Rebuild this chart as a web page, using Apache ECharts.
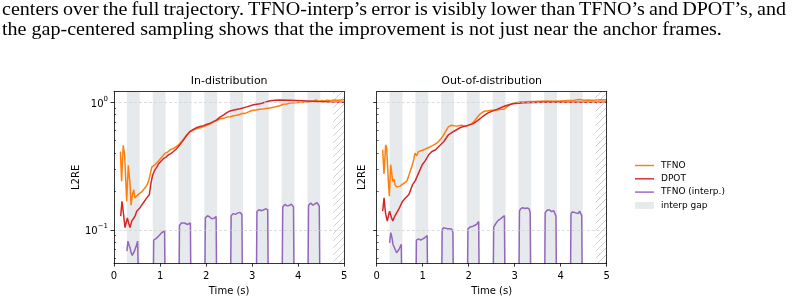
<!DOCTYPE html>
<html>
<head>
<meta charset="utf-8">
<script src="https://cdn.jsdelivr.net/npm/echarts@6/dist/echarts.min.js"></script>
<style>
  html, body { margin: 0; padding: 0; background: #fff; }
  #wrap { position: relative; width: 804px; height: 301px; overflow: hidden; }
  #chart { position: absolute; left: 0; top: 0; width: 804px; height: 301px; }
  .txt { position: absolute; left: 2px; font-family: 'Liberation Serif', serif; font-size: 19px; line-height: 19px; color: #000; white-space: nowrap; transform: scaleX(1.056); transform-origin: 0 0; }
  #line1 { top: -0.9px; word-spacing: -0.8px; }
  #line2 { top: 18.6px; }
</style>
</head>
<body>
<div id="wrap">
  <div id="chart"></div>
  <div class="txt" id="line1">centers over the full trajectory. TFNO-interp’s error is visibly lower than TFNO’s and DPOT’s, and</div>
  <div class="txt" id="line2">the gap-centered sampling shows that the improvement is not just near the anchor frames.</div>
</div>
<script>
  // axes
  const xTicks = [0, 1, 2, 3, 4, 5]
  const yMajor = [0.1, 1]
  const yMinor = [0.06, 0.07, 0.08, 0.09, 0.2, 0.3, 0.4, 0.5, 0.6, 0.7, 0.8, 0.9]
  const panelTitles = ['In-distribution', 'Out-of-distribution']

  // interp gaps (s), hatched tail
  const gapStart = [0.28, 0.84, 1.40, 1.96, 2.52, 3.08, 3.64, 4.20]
  const gapEnd = [0.56, 1.12, 1.68, 2.24, 2.80, 3.36, 3.92, 4.48]
  const hatchFrom = 4.76

  // In-distribution
  const idTfnoT = [0.14, 0.165, 0.20, 0.23, 0.26, 0.275, 0.31, 0.35, 0.37, 0.40, 0.43, 0.45, 0.48, 0.53, 0.56, 0.60, 0.64, 0.67, 0.71, 0.75, 0.80, 0.82, 0.86, 0.89, 0.93, 0.96, 1.00, 1.04, 1.08, 1.11, 1.16, 1.22, 1.28, 1.36, 1.42, 1.47, 1.52, 1.58, 1.65, 1.69, 1.75, 1.80, 1.87, 1.94, 2.00, 2.05, 2.10, 2.15, 2.23, 2.30, 2.38, 2.45, 2.52, 2.60, 2.67, 2.74, 2.80, 2.85, 2.92, 2.99, 3.08, 3.17, 3.24, 3.30, 3.38, 3.46, 3.53, 3.60, 3.68, 3.75, 3.83, 3.92, 4.00, 4.10, 4.19, 4.26, 4.33, 4.40, 4.45, 4.50, 4.56, 4.62, 4.70, 4.78, 4.86, 4.93, 5.00]
  const idTfno = [0.41, 0.24, 0.46, 0.39, 0.226, 0.167, 0.32, 0.226, 0.156, 0.189, 0.206, 0.178, 0.178, 0.19, 0.188, 0.198, 0.205, 0.213, 0.222, 0.24, 0.287, 0.31, 0.318, 0.324, 0.33, 0.344, 0.352, 0.372, 0.38, 0.399, 0.405, 0.424, 0.432, 0.45, 0.47, 0.492, 0.52, 0.556, 0.59, 0.605, 0.61, 0.622, 0.63, 0.644, 0.655, 0.668, 0.68, 0.70, 0.718, 0.742, 0.748, 0.765, 0.77, 0.785, 0.79, 0.805, 0.82, 0.818, 0.84, 0.862, 0.868, 0.88, 0.885, 0.895, 0.90, 0.912, 0.925, 0.94, 0.965, 0.968, 0.988, 0.99, 0.997, 1.0, 1.005, 1.015, 1.022, 1.04, 1.02, 1.03, 1.025, 1.035, 1.03, 1.04, 1.035, 1.04, 1.045]
  const idDpotT = [0.145, 0.174, 0.203, 0.239, 0.26, 0.29, 0.32, 0.348, 0.384, 0.42, 0.457, 0.493, 0.53, 0.565, 0.60, 0.638, 0.67, 0.71, 0.768, 0.797, 0.833, 0.86, 0.891, 0.93, 0.964, 1.02, 1.072, 1.13, 1.181, 1.24, 1.29, 1.35, 1.40, 1.46, 1.51, 1.58, 1.65, 1.72, 1.80, 1.87, 1.94, 2.02, 2.09, 2.16, 2.23, 2.30, 2.38, 2.45, 2.52, 2.63, 2.74, 2.88, 3.03, 3.17, 3.28, 3.39, 3.50, 3.59, 3.80, 4.10, 4.40, 4.70, 5.00]
  const idDpot = [0.128, 0.167, 0.136, 0.104, 0.112, 0.124, 0.112, 0.104, 0.117, 0.122, 0.128, 0.140, 0.144, 0.149, 0.156, 0.163, 0.168, 0.178, 0.189, 0.226, 0.263, 0.28, 0.296, 0.31, 0.328, 0.345, 0.361, 0.372, 0.387, 0.398, 0.411, 0.43, 0.45, 0.48, 0.507, 0.55, 0.589, 0.612, 0.634, 0.645, 0.656, 0.672, 0.686, 0.705, 0.728, 0.765, 0.796, 0.83, 0.855, 0.872, 0.888, 0.92, 0.955, 0.975, 1.0, 1.028, 1.038, 1.04, 1.035, 1.028, 1.015, 1.005, 1.0]
  // TFNO (interp.) inside each gap; 0.01 = drop below the axis
  const idInterp = [
    [0.068, 0.0815, 0.076, 0.072, 0.066, 0.063, 0.064, 0.068, 0.072, 0.076, 0.0815, 0.084, 0.01],
    [0.01, 0.083, 0.084, 0.0855, 0.086, 0.087, 0.089, 0.091, 0.093, 0.0948, 0.096, 0.0975, 0.098, 0.01],
    [0.01, 0.108, 0.111, 0.113, 0.115, 0.114, 0.113, 0.111, 0.110, 0.110, 0.111, 0.112, 0.113, 0.01],
    [0.01, 0.124, 0.127, 0.129, 0.128, 0.126, 0.125, 0.122, 0.121, 0.123, 0.126, 0.127, 0.01],
    [0.01, 0.129, 0.133, 0.134, 0.133, 0.132, 0.133, 0.135, 0.139, 0.137, 0.133, 0.132, 0.01],
    [0.01, 0.139, 0.143, 0.144, 0.141, 0.141, 0.142, 0.143, 0.144, 0.146, 0.145, 0.144, 0.01],
    [0.01, 0.151, 0.156, 0.158, 0.157, 0.154, 0.153, 0.155, 0.158, 0.159, 0.156, 0.151, 0.01],
    [0.01, 0.155, 0.160, 0.162, 0.159, 0.156, 0.157, 0.160, 0.161, 0.163, 0.158, 0.153, 0.01]
  ]

  // Out-of-distribution
  const oodTfnoT = [0.13, 0.159, 0.195, 0.217, 0.253, 0.275, 0.304, 0.326, 0.348, 0.377, 0.398, 0.435, 0.47, 0.507, 0.54, 0.58, 0.62, 0.652, 0.69, 0.725, 0.76, 0.797, 0.833, 0.87, 0.906, 0.942, 0.98, 1.014, 1.05, 1.087, 1.12, 1.16, 1.20, 1.232, 1.27, 1.304, 1.34, 1.377, 1.41, 1.45, 1.48, 1.51, 1.56, 1.60, 1.63, 1.68, 1.74, 1.80, 1.85, 1.90, 1.96, 2.02, 2.07, 2.12, 2.17, 2.21, 2.25, 2.30, 2.36, 2.41, 2.46, 2.54, 2.62, 2.70, 2.76, 2.83, 2.90, 2.98, 3.05, 3.12, 3.25, 3.40, 3.55, 3.70, 3.85, 4.00, 4.15, 4.27, 4.35, 4.42, 4.50, 4.60, 4.70, 4.80, 4.90, 5.00]
  const oodTfno = [0.424, 0.274, 0.463, 0.44, 0.24, 0.183, 0.324, 0.33, 0.24, 0.25, 0.226, 0.216, 0.218, 0.22, 0.225, 0.23, 0.235, 0.24, 0.26, 0.287, 0.31, 0.344, 0.399, 0.38, 0.41, 0.415, 0.418, 0.424, 0.428, 0.435, 0.44, 0.45, 0.455, 0.463, 0.47, 0.48, 0.49, 0.507, 0.525, 0.55, 0.575, 0.60, 0.644, 0.65, 0.66, 0.655, 0.65, 0.658, 0.66, 0.652, 0.65, 0.665, 0.68, 0.71, 0.75, 0.78, 0.81, 0.835, 0.855, 0.855, 0.86, 0.865, 0.87, 0.88, 0.88, 0.92, 0.96, 0.985, 0.995, 1.005, 1.01, 1.015, 1.02, 1.025, 1.02, 1.025, 1.03, 1.03, 1.045, 1.05, 1.035, 1.04, 1.035, 1.04, 1.045, 1.04]
  const oodDpotT = [0.13, 0.16, 0.19, 0.23, 0.25, 0.28, 0.32, 0.35, 0.38, 0.42, 0.48, 0.56, 0.63, 0.70, 0.78, 0.82, 0.84, 0.91, 0.99, 1.06, 1.13, 1.20, 1.28, 1.35, 1.46, 1.56, 1.67, 1.82, 1.96, 2.10, 2.20, 2.30, 2.43, 2.61, 2.80, 2.96, 3.20, 3.60, 4.20, 5.00]
  const oodDpot = [0.140, 0.178, 0.136, 0.117, 0.126, 0.140, 0.125, 0.117, 0.125, 0.128, 0.145, 0.167, 0.178, 0.189, 0.226, 0.226, 0.243, 0.278, 0.324, 0.35, 0.387, 0.411, 0.424, 0.45, 0.492, 0.556, 0.59, 0.634, 0.656, 0.68, 0.72, 0.77, 0.83, 0.88, 0.94, 0.975, 0.99, 1.0, 1.0, 1.0]
  const oodInterp = [
    [0.079, 0.095, 0.087, 0.076, 0.073, 0.071, 0.066, 0.068, 0.070, 0.071, 0.077, 0.01],
    [0.01, 0.083, 0.084, 0.085, 0.084, 0.083, 0.084, 0.085, 0.0866, 0.087, 0.089, 0.090, 0.01],
    [0.01, 0.099, 0.1036, 0.104, 0.103, 0.103, 0.102, 0.101, 0.102, 0.103, 0.101, 0.095, 0.01],
    [0.01, 0.1018, 0.104, 0.105, 0.106, 0.106, 0.107, 0.108, 0.108, 0.110, 0.113, 0.116, 0.01],
    [0.01, 0.105, 0.108, 0.112, 0.115, 0.118, 0.120, 0.121, 0.123, 0.125, 0.127, 0.129, 0.01],
    [0.01, 0.140, 0.146, 0.149, 0.149, 0.148, 0.147, 0.147, 0.148, 0.148, 0.146, 0.136, 0.01],
    [0.01, 0.136, 0.141, 0.143, 0.145, 0.143, 0.141, 0.139, 0.140, 0.141, 0.138, 0.128, 0.01],
    [0.01, 0.133, 0.138, 0.139, 0.137, 0.136, 0.135, 0.133, 0.135, 0.140, 0.141, 0.129, 0.01]
  ]

  const colTfno = '#ff7f0e'
  const colDpot = '#d62728'
  const colInterp = '#9467bd'
  const colGap = '#e7eaed'
  const yMin = 0.0548
  const yMax = 1.21

  // hatch for the tail region
  const hatch = document.createElement('canvas')
  hatch.width = 7
  hatch.height = 7
  const hg = hatch.getContext('2d')
  hg.strokeStyle = '#c4c4c4'
  hg.lineWidth = 0.8
  hg.beginPath()
  hg.moveTo(0, 7); hg.lineTo(7, 0)
  hg.moveTo(-1, 1); hg.lineTo(1, -1)
  hg.moveTo(6, 8); hg.lineTo(8, 6)
  hg.stroke()

  function pairs(ts, vs) {
    return ts.map((t, i) => [t, vs[i]])
  }

  function interpData(bands) {
    const out = []
    bands.forEach((vals, k) => {
      const n = vals.length
      vals.forEach((v, i) => {
        out.push([gapStart[k] + (gapEnd[k] - gapStart[k]) * i / (n - 1), v])
      })
      out.push([gapEnd[k] + 0.01, '-'])
    })
    return out
  }

  const grids = [
    {left: 114, top: 91.7, width: 230.3, height: 172},
    {left: 376.7, top: 91.7, width: 230, height: 172}
  ]
  const axisColor = '#000'
  const lineW = 0.8

  const xAxis = []
  const yAxis = []
  const series = []

  grids.forEach((g, gi) => {
    xAxis.push({
      gridIndex: gi, type: 'value', min: 0, max: 5, interval: 1, z: 5,
      axisLine: {lineStyle: {color: axisColor, width: lineW}},
      axisTick: {length: 3.5, lineStyle: {color: axisColor, width: lineW}, customValues: xTicks},
      axisLabel: {fontSize: 10, color: '#000', margin: 8, customValues: xTicks},
      splitLine: {show: false},
      name: 'Time (s)', nameLocation: 'middle', nameGap: 20,
      nameTextStyle: {fontSize: 10, color: '#000'}
    })
    xAxis.push({
      gridIndex: gi, type: 'value', min: 0, max: 5, position: 'top', z: 5,
      axisLine: {show: true, lineStyle: {color: axisColor, width: lineW}},
      axisTick: {show: false}, axisLabel: {show: false}, splitLine: {show: false}
    })
    yAxis.push({
      gridIndex: gi, type: 'log', logBase: 10, min: yMin, max: yMax, z: 5,
      axisLine: {show: true, lineStyle: {color: axisColor, width: lineW}},
      axisTick: {show: true, length: 3.5, lineStyle: {color: axisColor, width: lineW}, customValues: yMajor},
      axisLabel: {
        show: gi === 0, color: '#000', margin: 6, customValues: yMajor,
        formatter: v => v > 0.5 ? '{b|10}{s|0}' : '{b|10}{s|−1}',
        rich: {
          b: {fontSize: 10, lineHeight: 14, verticalAlign: 'bottom', color: '#000'},
          s: {fontSize: 7, lineHeight: 14, verticalAlign: 'top', color: '#000'}
        }
      },
      splitLine: {show: true, lineStyle: {color: '#cfcfcf', width: 0.7, type: [3, 2]}},
      name: 'L2RE', nameLocation: 'middle', nameRotate: 90, nameGap: gi === 0 ? 33 : 9,
      nameTextStyle: {fontSize: 10, color: '#000'}
    })
    yAxis.push({
      gridIndex: gi, type: 'log', logBase: 10, min: yMin, max: yMax, z: 5,
      axisLine: {show: false},
      axisTick: {show: true, length: 2, lineStyle: {color: axisColor, width: 0.6}, customValues: yMinor},
      axisLabel: {show: false}, splitLine: {show: false}
    })
    yAxis.push({
      gridIndex: gi, type: 'log', logBase: 10, min: yMin, max: yMax, position: 'right', z: 5,
      axisLine: {show: true, lineStyle: {color: axisColor, width: lineW}},
      axisTick: {show: false}, axisLabel: {show: false}, splitLine: {show: false}
    })

    const xi = gi * 2
    const yi = gi * 3
    const tfno = gi === 0 ? pairs(idTfnoT, idTfno) : pairs(oodTfnoT, oodTfno)
    const dpot = gi === 0 ? pairs(idDpotT, idDpot) : pairs(oodDpotT, oodDpot)
    const interp = interpData(gi === 0 ? idInterp : oodInterp)

    const areas = gapStart.map((s, k) => [{xAxis: s}, {xAxis: gapEnd[k]}])
    areas.push([{xAxis: hatchFrom, itemStyle: {color: {image: hatch, repeat: 'repeat'}}}, {xAxis: 5}])

    series.push({
      name: 'interp gap', type: 'line', xAxisIndex: xi, yAxisIndex: yi, data: [], z: 1,
      itemStyle: {color: colGap}, lineStyle: {color: colGap},
      markArea: {silent: true, itemStyle: {color: colGap}, data: areas}
    })
    series.push({
      name: 'TFNO', type: 'line', xAxisIndex: xi, yAxisIndex: yi, data: tfno, z: 2,
      showSymbol: false, color: colTfno, lineStyle: {width: 1.5, color: colTfno}
    })
    series.push({
      name: 'DPOT', type: 'line', xAxisIndex: xi, yAxisIndex: yi, data: dpot, z: 3,
      showSymbol: false, color: colDpot, lineStyle: {width: 1.5, color: colDpot}
    })
    series.push({
      name: 'TFNO (interp.)', type: 'line', xAxisIndex: xi, yAxisIndex: yi, data: interp, z: 4,
      showSymbol: false, color: colInterp, lineStyle: {width: 1.5, color: colInterp}
    })
  })

  const chart = echarts.init(document.getElementById('chart'), null, {renderer: 'canvas'})
  chart.setOption({
    animation: false,
    backgroundColor: 'transparent',
    textStyle: {fontFamily: 'DejaVu Sans'},
    title: panelTitles.map((t, i) => ({
      text: t,
      left: grids[i].left + grids[i].width / 2,
      top: 76,
      textAlign: 'center',
      padding: 0,
      textStyle: {fontSize: 11, fontWeight: 'normal', color: '#000', fontFamily: 'DejaVu Sans'}
    })),
    legend: {
      orient: 'vertical', left: 635, top: 161, padding: 0,
      itemWidth: 19, itemHeight: 7, itemGap: 4.3,
      textStyle: {fontSize: 9, color: '#000', lineHeight: 9, padding: [0, 0, 0, 2]},
      data: [
        {name: 'TFNO', icon: 'path://M0,0H20V1.5H0Z'},
        {name: 'DPOT', icon: 'path://M0,0H20V1.5H0Z'},
        {name: 'TFNO (interp.)', icon: 'path://M0,0H20V1.5H0Z'},
        {name: 'interp gap', icon: 'rect'}
      ]
    },
    grid: grids,
    xAxis: xAxis,
    yAxis: yAxis,
    series: series
  })
</script>
</body>
</html>
